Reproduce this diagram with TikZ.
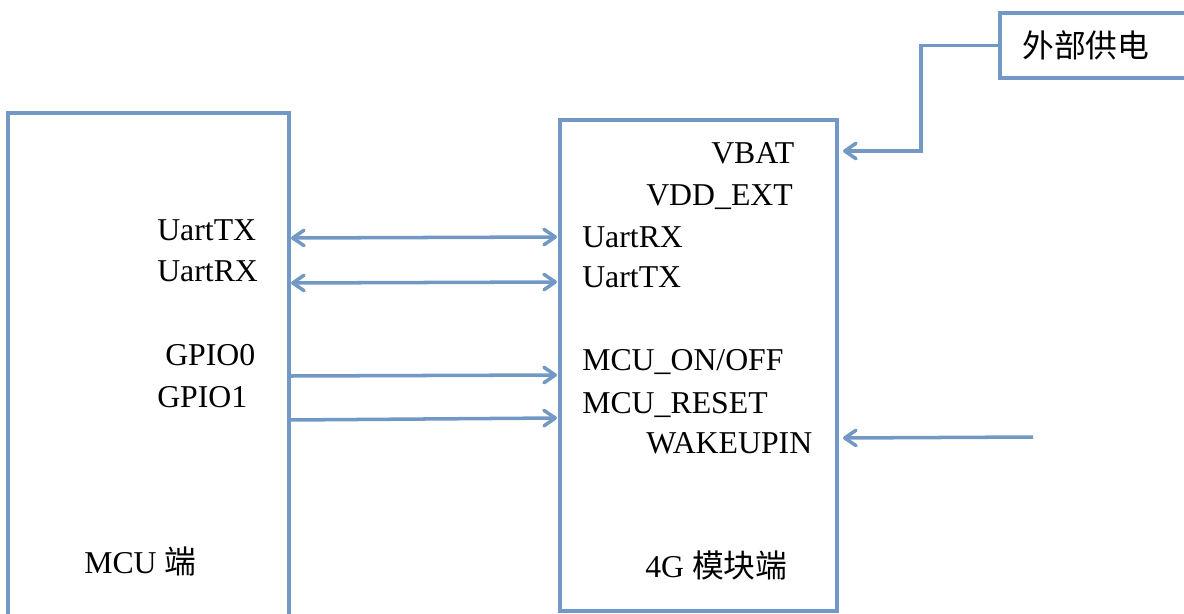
\documentclass[tikz,border=0pt]{standalone}
\usepackage{fontspec}
\setmainfont{Liberation Serif}
\newfontfamily\cjk{Noto Sans CJK SC}
\usepackage{tikz}
\usetikzlibrary{arrows.meta,positioning,calc}

\definecolor{linkblue}{RGB}{114,153,198}
\tikzset{
  box/.style={draw=linkblue, line width=2.5pt, inner sep=0pt, outer sep=0pt},
  barb/.style={Straight Barb[length=8pt,width=11pt,round]},
  link/.style={draw=linkblue, line width=2.5pt, arrows={-Straight Barb[length=8pt,width=11pt,round]}},
  biLink/.style={link, arrows={Straight Barb[length=8pt,width=11pt,round]-Straight Barb[length=8pt,width=11pt,round]}},
  lbl/.style={font=\fontsize{22.6}{26}\selectfont, inner sep=0pt, anchor=base west},
}

\begin{document}
\begin{tikzpicture}[x=0.025cm, y=-0.025cm]
    \useasboundingbox (0,0) rectangle (1184,613);

    % MCU side (open at the bottom)
    \draw[box] (8,620) -- (8,113) -- (289,113) -- (289,620);
    % 4G module
    \node[box, anchor=north west, minimum width=6.925cm, minimum height=12.275cm] (mod) at (560,120) {};
    % external supply
    \node[box, anchor=north west, minimum width=5cm, minimum height=1.625cm] (pwr) at (1000,13) {};
    \node[lbl] (pwrtxt) at (1022,57) {\cjk 外部供电};

    % MCU pins
    \node[lbl] (mcutx) at (157,240) {UartTX};
    \node[lbl] (mcurx) at (157,281) {UartRX};
    \node[lbl] (gpio0) at (165,365) {GPIO0};
    \node[lbl] (gpio1) at (157,407) {GPIO1};
    \node[lbl] (mcuname) at (84,573) {MCU {\cjk 端}};

    % module pins
    \node[lbl] (vbat) at (711,163) {VBAT};
    \node[lbl] (vddext) at (646,205) {VDD\_EXT};
    \node[lbl] (modrx) at (582,247) {UartRX};
    \node[lbl] (modtx) at (582,287) {UartTX};
    \node[lbl] (onoff) at (582,370) {MCU\_ON/OFF};
    \node[lbl] (reset) at (582,413) {MCU\_RESET};
    \node[lbl] (wake) at (646,453) {WAKEUPIN};
    \node[lbl] (modname) at (645,577) {4G {\cjk 模块端}};

    % pin ends on the box edges
    \coordinate (mcuTxEnd) at (291,238);
    \coordinate (mcuRxEnd) at (291,283);
    \coordinate (gpio0End) at (289,376);
    \coordinate (gpio1End) at (289,420);
    \coordinate (modRxEnd) at (557,237);
    \coordinate (modTxEnd) at (557,282);
    \coordinate (onoffEnd) at (557,375);
    \coordinate (resetEnd) at (557,418);
    \coordinate (vbatEnd) at (843,151);
    \coordinate (wakeEnd) at (843,438);
    \coordinate (wakeSrc) at (1033,437);

    % connections
    \draw[biLink] (mcuTxEnd) -- (modRxEnd);
    \draw[biLink] (mcuRxEnd) -- (modTxEnd);
    \draw[link] (gpio0End) -- (onoffEnd);
    \draw[link] (gpio1End) -- (resetEnd);
    \draw[link] (pwr.west) -| (921,151) -- (vbatEnd);
    \draw[link] (wakeSrc) -- (wakeEnd);
\end{tikzpicture}
\end{document}
